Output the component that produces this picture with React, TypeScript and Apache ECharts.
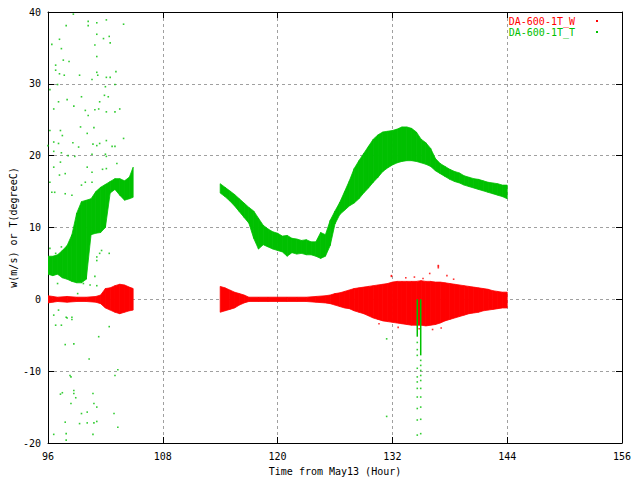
import React, { useEffect, useRef } from "react";
import * as echarts from "echarts";

const X_TICKS = [96, 108, 120, 132, 144, 156];
const Y_TICKS = [-20, -10, 0, 10, 20, 30, 40];
const W_NAME = "DA-600-1T_W";
const T_NAME = "DA-600-1T_T";

// envelope rows: [hour, low, high]
const tSeg1: number[][] = [
  [96.0, 3.5, 6.0], [96.5, 3.3, 6.0], [97.0, 3.5, 6.2], [97.5, 3.0, 6.8], [98.0, 2.8, 7.5],
  [98.5, 2.5, 9.0], [99.0, 2.3, 12.0], [99.5, 2.3, 13.6], [100.0, 2.8, 13.8], [100.5, 9.0, 14.0],
  [101.0, 9.2, 15.0], [101.5, 9.3, 15.6], [102.0, 10.0, 16.0], [102.5, 14.8, 16.4], [103.0, 15.3, 16.8],
  [103.5, 14.5, 16.8], [104.0, 13.8, 16.5], [104.5, 14.0, 17.0], [104.9, 14.2, 18.4],
];
const tSeg2: number[][] = [
  [114.0, 14.8, 16.1], [114.5, 14.3, 15.6], [115.0, 13.7, 15.1], [115.5, 13.0, 14.6], [116.0, 12.2, 14.0],
  [116.5, 11.4, 13.4], [117.0, 10.6, 12.8], [117.5, 8.5, 12.3], [118.0, 7.0, 11.3], [118.5, 7.6, 10.3],
  [119.0, 7.3, 9.8], [119.5, 7.0, 9.4], [120.0, 6.8, 9.2], [120.5, 6.6, 8.8], [121.0, 6.0, 8.9],
  [121.5, 6.5, 8.5], [122.0, 6.3, 8.4], [122.5, 6.4, 8.2], [123.0, 6.2, 8.3], [123.5, 6.2, 8.0],
  [124.0, 6.0, 8.0], [124.5, 5.7, 9.3], [125.0, 6.0, 9.0], [125.5, 7.5, 11.0], [126.0, 10.5, 12.3],
  [126.5, 11.8, 13.5], [127.0, 12.4, 15.0], [127.5, 13.0, 16.5], [128.0, 13.4, 18.2], [128.5, 14.0, 19.3],
  [129.0, 14.8, 20.3], [129.5, 15.5, 21.3], [130.0, 16.3, 22.3], [130.5, 17.0, 22.9], [131.0, 17.8, 23.3],
  [131.5, 18.3, 23.4], [132.0, 18.7, 23.5], [132.5, 19.0, 23.7], [133.0, 19.2, 24.0], [133.5, 19.3, 24.0],
  [134.0, 19.3, 23.8], [134.5, 19.2, 23.3], [135.0, 19.0, 22.3], [135.5, 18.8, 21.8], [136.0, 18.5, 21.0],
  [136.5, 17.9, 19.6], [137.0, 17.5, 18.9], [137.5, 17.1, 18.5], [138.0, 16.7, 18.1], [138.5, 16.4, 17.8],
  [139.0, 16.2, 17.6], [139.5, 15.9, 17.2], [140.0, 15.7, 17.0], [140.5, 15.5, 16.8], [141.0, 15.3, 16.7],
  [141.5, 15.1, 16.5], [142.0, 14.9, 16.3], [142.5, 14.7, 16.2], [143.0, 14.5, 16.1], [143.5, 14.3, 15.9],
  [144.0, 14.0, 15.9],
];
const wSeg1: number[][] = [
  [96.0, -0.5, 0.5], [96.5, -0.4, 0.4], [97.0, -0.3, 0.3], [98.0, -0.4, 0.4], [99.0, -0.3, 0.3],
  [100.0, -0.3, 0.3], [101.0, -0.4, 0.4], [101.5, -0.6, 0.6], [102.0, -1.2, 1.5], [102.5, -1.5, 1.6],
  [103.0, -1.8, 1.9], [103.5, -2.0, 2.1], [104.0, -1.8, 2.0], [104.5, -1.6, 1.7], [104.9, -1.5, 1.5],
];
const wSeg2: number[][] = [
  [114.0, -1.8, 1.8], [114.5, -1.6, 1.6], [115.0, -1.4, 1.3], [115.5, -1.2, 1.0], [116.0, -0.8, 0.8],
  [116.5, -0.5, 0.6], [117.0, -0.3, 0.3], [118.0, -0.3, 0.3], [119.0, -0.3, 0.3], [120.0, -0.3, 0.3],
  [121.0, -0.3, 0.3], [122.0, -0.3, 0.3], [123.0, -0.3, 0.3], [124.0, -0.4, 0.4], [125.0, -0.5, 0.5],
  [125.5, -0.6, 0.6], [126.0, -0.8, 0.8], [126.5, -1.0, 0.9], [127.0, -1.2, 1.1], [127.5, -1.3, 1.3],
  [128.0, -1.6, 1.5], [128.5, -1.8, 1.6], [129.0, -2.0, 1.7], [129.5, -2.3, 1.8], [130.0, -2.6, 1.9],
  [130.5, -2.8, 2.0], [131.0, -3.0, 2.1], [131.5, -3.1, 2.2], [132.0, -3.2, 2.4], [132.5, -3.3, 2.5],
  [133.0, -3.4, 2.5], [133.5, -3.5, 2.5], [134.0, -3.6, 2.5], [134.5, -3.6, 2.5], [135.0, -3.6, 2.6],
  [135.5, -3.7, 2.5], [136.0, -3.6, 2.5], [136.5, -3.5, 2.4], [137.0, -3.3, 2.4], [137.5, -3.0, 2.3],
  [138.0, -2.8, 2.2], [138.5, -2.6, 2.1], [139.0, -2.4, 2.0], [139.5, -2.2, 1.9], [140.0, -2.0, 1.8],
  [140.5, -1.9, 1.7], [141.0, -1.8, 1.6], [141.5, -1.6, 1.5], [142.0, -1.5, 1.4], [142.5, -1.4, 1.2],
  [143.0, -1.3, 1.1], [143.5, -1.2, 1.0], [144.0, -1.2, 1.0],
];
// solid green drop-outs: [hour, low, high]
const tSpikes: number[][] = [[134.6, -5.2, 0], [134.96, -7.8, 0]];

const tOutliers: number[][] = [
  [98.65, 39.7], [97.9, 38.1], [100.2, 38.7], [100.2, 38.1], [101.1, 38.5], [102.1, 38.9], [103.9, 38.3],
  [96.4, 35.5], [97.2, 36.2], [97.4, 34.9], [98.2, 33.1], [97.6, 33.3], [96.8, 32.6], [96.8, 31.9],
  [97.2, 31.4], [97.7, 31.2], [101.1, 36.9], [100.9, 35.4], [101.8, 36.3], [102.5, 35.7], [102.4, 36.6],
  [101.1, 33.8], [99.3, 31.2], [100.6, 30.6], [101.1, 31.6], [101.2, 31.2], [102.1, 30.9], [102.5, 30.9],
  [103.1, 31.7], [96.2, 29.2], [97.0, 29.9], [103.0, 29.9], [102.0, 29.6], [96.6, 26.5], [97.1, 27.5],
  [98.0, 27.8], [98.7, 26.9], [99.5, 28.2], [99.9, 26.3], [100.2, 25.6], [100.9, 26.4], [101.3, 26.5],
  [101.4, 27.5], [101.9, 28.4], [102.3, 28.2], [102.1, 26.1], [103.0, 26.1], [103.5, 26.5], [96.2, 23.5],
  [97.3, 23.5], [97.5, 22.8], [96.6, 21.9], [97.1, 21.7], [96.0, 21.4], [98.6, 21.8], [99.2, 21.2],
  [99.4, 24.0], [100.1, 23.1], [100.7, 21.6], [100.8, 23.9], [101.1, 21.4], [101.4, 21.7], [102.1, 22.1],
  [102.7, 21.3], [103.0, 21.3], [103.9, 22.4], [96.6, 20.6], [97.4, 20.4], [98.1, 20.0], [98.8, 19.9],
  [100.6, 20.2], [102.0, 20.2], [102.1, 19.9], [103.2, 18.9], [97.3, 19.1], [96.6, 18.4], [97.8, 17.5],
  [97.2, 17.3], [96.2, 16.3], [96.4, 14.9], [96.7, 14.9], [97.8, 14.7], [98.5, 14.5], [99.5, 15.9],
  [99.9, 16.3], [100.6, 16.3], [100.6, 17.7], [100.1, 18.4], [101.7, 18.1], [102.1, 18.2],
  [96.2, 7.1], [96.8, 6.4], [97.4, 7.3], [96.7, 5.4], [101.4, 6.4], [101.6, 6.8], [102.4, 6.4],
  [101.1, 5.9], [101.1, 5.4], [100.9, 3.2], [101.1, 1.9], [100.4, 2.0], [99.7, 2.2], [97.0, 2.2],
  [99.1, 0.8], [97.1, -1.5], [96.6, -2.2], [96.8, -3.6], [97.4, -3.6], [97.9, -2.5], [98.0, -2.6],
  [98.5, -2.5], [98.5, -2.8], [102.4, -3.8], [101.3, -5.2], [97.8, -6.3], [98.7, -6.2], [100.3, -8.3],
  [103.3, -9.8], [103.0, -10.6], [98.3, -10.6], [98.4, -10.8], [98.7, -12.7], [98.7, -13.1], [98.9, -13.7],
  [97.3, -13.2], [97.5, -13.0], [98.4, -14.5], [100.7, -13.1], [100.8, -14.5], [101.1, -15.0],
  [99.5, -15.9], [100.1, -15.7], [102.9, -15.9], [97.8, -17.1], [100.1, -17.2], [99.3, -17.3],
  [100.8, -17.2], [101.1, -17.0], [103.3, -17.8], [96.6, -18.8], [97.9, -18.7], [100.7, -18.8], [97.9, -19.6],
  [131.4, -5.5], [131.4, -16.3],
  [134.6, -6.0], [134.6, -7.0], [134.6, -7.8], [134.6, -9.6], [134.6, -10.8], [134.6, -11.5], [134.6, -12.4],
  [134.6, -13.6], [134.6, -15.2], [134.6, -16.8], [134.6, -18.9],
  [134.96, -8.5], [134.96, -9.2], [134.96, -9.9], [134.96, -10.6], [134.96, -11.3], [134.96, -12.4],
  [134.96, -13.6], [134.96, -15.0], [134.96, -16.7], [134.96, -18.7],
];
const wOutliers: number[][] = [
  [131.9, 3.3], [131.9, 3.2], [136.8, 4.7], [136.8, 4.6], [136.8, 4.4], [135.2, 2.9], [135.9, 3.6],
  [137.7, 3.3], [133.4, 3.0], [134.3, 3.1], [138.4, 2.8], [132.6, -3.9], [136.2, -4.2], [137.1, -4.0],
  [130.6, -3.4], [134.8, -4.1],
];

const RED = "#ff0000";
const GREEN = "#00c000";
const FONT = "DejaVu Sans Mono";

function bandSeries(name: string, seg: number[][], color: string, z: number) {
  return {
    name,
    type: "custom",
    z,
    clip: true,
    itemStyle: { color },
    encode: { x: 0, y: [1, 2] },
    data: seg,
    renderItem: (params: any, api: any) => {
      const i = params.dataIndex;
      if (i >= seg.length - 1) return null;
      const a = seg[i];
      const b = seg[i + 1];
      const p1 = api.coord([a[0], a[2]]);
      const p2 = api.coord([b[0], b[2]]);
      const p3 = api.coord([b[0], b[1]]);
      const p4 = api.coord([a[0], a[1]]);
      return {
        type: "polygon",
        shape: { points: [p1, p2, p3, p4] },
        style: { fill: color, stroke: color, lineWidth: 0.8 },
      };
    },
  };
}

function spikeSeries(name: string, rows: number[][], color: string, z: number) {
  return {
    name,
    type: "custom",
    z,
    itemStyle: { color },
    encode: { x: 0, y: [1, 2] },
    data: rows,
    renderItem: (params: any, api: any) => {
      const top = api.coord([api.value(0), api.value(2)]);
      const bot = api.coord([api.value(0), api.value(1)]);
      return {
        type: "rect",
        shape: { x: top[0] - 0.75, y: top[1], width: 1.5, height: bot[1] - top[1] },
        style: { fill: color },
      };
    },
  };
}

export default function App() {
  const ref = useRef<HTMLDivElement>(null);
  useEffect(() => {
    if (!ref.current) return;
    const chart = echarts.init(ref.current, undefined, { renderer: "svg" });
    const axisLine = { show: true, onZero: false, lineStyle: { color: "#000", width: 1 } };
    const tick = { show: true, inside: true, length: 6, lineStyle: { color: "#000" } };
    const split = { show: true, lineStyle: { color: "#a0a0a0", type: [3, 3], width: 1 } };
    const label = { color: "#000", fontFamily: FONT, fontSize: 10 };
    chart.setOption({
      animation: false,
      backgroundColor: "#fff",
      grid: {
        left: 48,
        right: 18,
        top: 12,
        bottom: 37,
        containLabel: false,
        outerBoundsMode: "none",
      },
      legend: {
        right: 42,
        top: 16,
        padding: 0,
        orient: "vertical",
        align: "right",
        icon: "rect",
        itemWidth: 2,
        itemHeight: 2,
        itemGap: 1,
        selectedMode: false,
        textStyle: { fontFamily: FONT, fontSize: 10, padding: [0, 16, 0, 0] },
        data: [
          { name: W_NAME, textStyle: { color: RED } },
          { name: T_NAME, textStyle: { color: GREEN } },
        ],
      },
      xAxis: [
        {
          type: "value",
          min: X_TICKS[0],
          max: X_TICKS[X_TICKS.length - 1],
          interval: X_TICKS[1] - X_TICKS[0],
          position: "bottom",
          axisLine,
          axisTick: tick,
          splitLine: split,
          axisLabel: { ...label, margin: 8 },
          name: "Time from May13 (Hour)",
          nameLocation: "middle",
          nameGap: 23,
          nameTextStyle: label,
        },
        {
          type: "value",
          min: X_TICKS[0],
          max: X_TICKS[X_TICKS.length - 1],
          interval: X_TICKS[1] - X_TICKS[0],
          position: "top",
          axisLine,
          axisTick: tick,
          splitLine: { show: false },
          axisLabel: { show: false },
        },
      ],
      yAxis: [
        {
          type: "value",
          min: Y_TICKS[0],
          max: Y_TICKS[Y_TICKS.length - 1],
          interval: Y_TICKS[1] - Y_TICKS[0],
          position: "left",
          axisLine,
          axisTick: tick,
          splitLine: split,
          axisLabel: { ...label, margin: 7 },
          name: "w(m/s) or T(degreeC)",
          nameLocation: "middle",
          nameGap: 30,
          nameMoveOverlap: false,
          nameTextStyle: label,
        },
        {
          type: "value",
          min: Y_TICKS[0],
          max: Y_TICKS[Y_TICKS.length - 1],
          interval: Y_TICKS[1] - Y_TICKS[0],
          position: "right",
          axisLine,
          axisTick: tick,
          splitLine: { show: false },
          axisLabel: { show: false },
        },
      ],
      series: [
        bandSeries(W_NAME, wSeg1, RED, 2),
        bandSeries(W_NAME, wSeg2, RED, 2),
        {
          name: W_NAME,
          type: "scatter",
          z: 2,
          symbol: "rect",
          symbolSize: 1.6,
          itemStyle: { color: RED },
          data: wOutliers,
        },
        bandSeries(T_NAME, tSeg1, GREEN, 3),
        bandSeries(T_NAME, tSeg2, GREEN, 3),
        spikeSeries(T_NAME, tSpikes, GREEN, 3),
        {
          name: T_NAME,
          type: "scatter",
          z: 3,
          symbol: "rect",
          symbolSize: 1.6,
          itemStyle: { color: GREEN },
          data: tOutliers,
        },
      ],
    });
    return () => chart.dispose();
  }, []);
  return (
    <div
      ref={ref}
      style={{ position: "absolute", left: 0, top: 0, width: 640, height: 480 }}
    />
  );
}
